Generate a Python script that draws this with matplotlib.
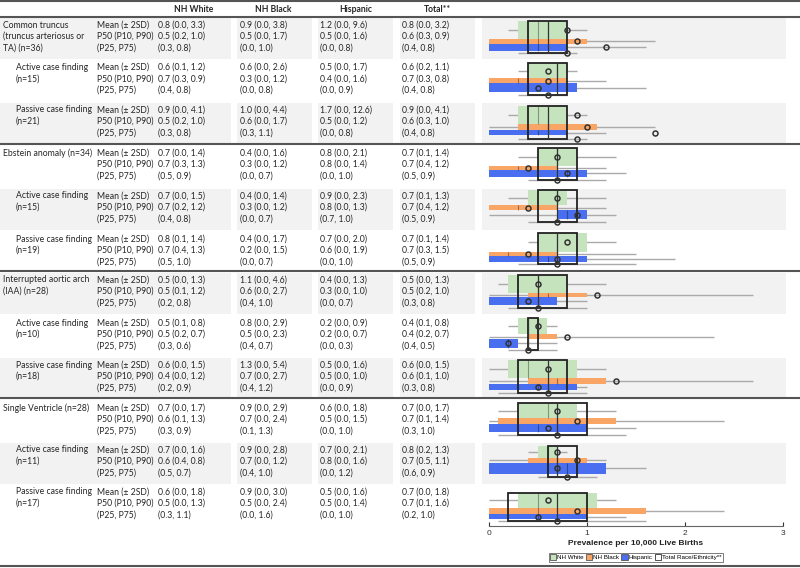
import numpy as np
import matplotlib
matplotlib.use("Agg")
import matplotlib.pyplot as plt
from matplotlib.patches import Rectangle, Patch

plt.rcParams['font.family'] = ['Lato', 'DejaVu Sans']

# 行标签
row_labels = [
    ["Common truncus", "(truncus arteriosus or", "TA) (n=36)"],
    ["Active case finding", "(n=15)"],
    ["Passive case finding", "(n=21)"],
    ["Ebstein anomaly (n=34)"],
    ["Active case finding", "(n=15)"],
    ["Passive case finding", "(n=19)"],
    ["Interrupted aortic arch", "(IAA) (n=28)"],
    ["Active case finding", "(n=10)"],
    ["Passive case finding", "(n=18)"],
    ["Single Ventricle (n=28)"],
    ["Active case finding", "(n=11)"],
    ["Passive case finding", "(n=17)"],
]
stat_labels = ["Mean (\u00b1 2SD)", "P50 (P10, P90)", "(P25, P75)"]
col_names = ["NH White", "NH Black", "Hispanic", "Total**"]

# 每行: mean, -2SD, +2SD, P50, P10, P90, P25, P75
nh_white = [
    [0.8, 0.0, 3.3, 0.5, 0.2, 1.0, 0.3, 0.8],
    [0.6, 0.1, 1.2, 0.7, 0.3, 0.9, 0.4, 0.8],
    [0.9, 0.0, 4.1, 0.5, 0.2, 1.0, 0.3, 0.8],
    [0.7, 0.0, 1.4, 0.7, 0.3, 1.3, 0.5, 0.9],
    [0.7, 0.0, 1.5, 0.7, 0.2, 1.2, 0.4, 0.8],
    [0.8, 0.1, 1.4, 0.7, 0.4, 1.3, 0.5, 1.0],
    [0.5, 0.0, 1.3, 0.5, 0.1, 1.2, 0.2, 0.8],
    [0.5, 0.1, 0.8, 0.5, 0.2, 0.7, 0.3, 0.6],
    [0.6, 0.0, 1.5, 0.4, 0.0, 1.2, 0.2, 0.9],
    [0.7, 0.0, 1.7, 0.6, 0.1, 1.3, 0.3, 0.9],
    [0.7, 0.0, 1.6, 0.6, 0.4, 0.8, 0.5, 0.7],
    [0.6, 0.0, 1.8, 0.5, 0.0, 1.3, 0.3, 1.1],
]
nh_black = [
    [0.9, 0.0, 3.8, 0.5, 0.0, 1.7, 0.0, 1.0],
    [0.6, 0.0, 2.6, 0.3, 0.0, 1.2, 0.0, 0.8],
    [1.0, 0.0, 4.4, 0.6, 0.0, 1.7, 0.3, 1.1],
    [0.4, 0.0, 1.6, 0.3, 0.0, 1.2, 0.0, 0.7],
    [0.4, 0.0, 1.4, 0.3, 0.0, 1.2, 0.0, 0.7],
    [0.4, 0.0, 1.7, 0.2, 0.0, 1.5, 0.0, 0.7],
    [1.1, 0.0, 4.6, 0.6, 0.0, 2.7, 0.4, 1.0],
    [0.8, 0.0, 2.9, 0.5, 0.0, 2.3, 0.4, 0.7],
    [1.3, 0.0, 5.4, 0.7, 0.0, 2.7, 0.4, 1.2],
    [0.9, 0.0, 2.9, 0.7, 0.0, 2.4, 0.1, 1.3],
    [0.9, 0.0, 2.8, 0.7, 0.0, 1.2, 0.4, 1.0],
    [0.9, 0.0, 3.0, 0.5, 0.0, 2.4, 0.0, 1.6],
]
hispanic = [
    [1.2, 0.0, 9.6, 0.5, 0.0, 1.6, 0.0, 0.8],
    [0.5, 0.0, 1.7, 0.4, 0.0, 1.6, 0.0, 0.9],
    [1.7, 0.0, 12.6, 0.5, 0.0, 1.2, 0.0, 0.8],
    [0.8, 0.0, 2.1, 0.8, 0.0, 1.4, 0.0, 1.0],
    [0.9, 0.0, 2.3, 0.8, 0.0, 1.3, 0.7, 1.0],
    [0.7, 0.0, 2.0, 0.6, 0.0, 1.9, 0.0, 1.0],
    [0.4, 0.0, 1.3, 0.3, 0.0, 1.0, 0.0, 0.7],
    [0.2, 0.0, 0.9, 0.2, 0.0, 0.7, 0.0, 0.3],
    [0.5, 0.0, 1.6, 0.5, 0.0, 1.0, 0.0, 0.9],
    [0.6, 0.0, 1.8, 0.5, 0.0, 1.5, 0.0, 1.0],
    [0.7, 0.0, 2.1, 0.8, 0.0, 1.6, 0.0, 1.2],
    [0.5, 0.0, 1.6, 0.5, 0.0, 1.4, 0.0, 1.0],
]
total = [
    [0.8, 0.0, 3.2, 0.6, 0.3, 0.9, 0.4, 0.8],
    [0.6, 0.2, 1.1, 0.7, 0.3, 0.8, 0.4, 0.8],
    [0.9, 0.0, 4.1, 0.6, 0.3, 1.0, 0.4, 0.8],
    [0.7, 0.1, 1.4, 0.7, 0.4, 1.2, 0.5, 0.9],
    [0.7, 0.1, 1.3, 0.7, 0.4, 1.2, 0.5, 0.9],
    [0.7, 0.1, 1.4, 0.7, 0.3, 1.5, 0.5, 0.9],
    [0.5, 0.0, 1.3, 0.5, 0.2, 1.0, 0.3, 0.8],
    [0.4, 0.1, 0.8, 0.4, 0.2, 0.7, 0.4, 0.5],
    [0.6, 0.0, 1.5, 0.6, 0.1, 1.0, 0.3, 0.8],
    [0.7, 0.0, 1.7, 0.7, 0.1, 1.4, 0.3, 1.0],
    [0.8, 0.2, 1.3, 0.7, 0.5, 1.1, 0.6, 0.9],
    [0.7, 0.0, 1.8, 0.7, 0.1, 1.6, 0.2, 1.0],
]
# 箱高占比 (各族裔出生人口份额, 从图中估计)
white_share = [0.56, 0.47, 0.55, 0.56, 0.47, 0.61, 0.54, 0.50, 0.54, 0.48, 0.40, 0.52]
black_share = [0.145, 0.145, 0.19, 0.11, 0.145, 0.12, 0.145, 0.145, 0.185, 0.19, 0.14, 0.23]
hisp_share = [0.215, 0.29, 0.16, 0.24, 0.29, 0.19, 0.245, 0.27, 0.205, 0.24, 0.36, 0.165]

# 版面 (像素)
W, H = 800, 568
row_c = [25, 67.3, 110, 153, 196, 239, 280, 323, 365, 408, 450, 492]
line_gap = 11.4
box_top = [21, 63.3, 105.5, 148.3, 190.3, 232.5, 275, 318.3, 360.3, 403, 445.5, 492.7]
box_h = [32.3, 32, 33, 31.7, 32, 31.6, 32.7, 32, 32.4, 32, 31.6, 28.6]
col_x = [157.5, 240, 320.5, 402]
head_x = [193.7, 272.8, 355.8, 437.8]
cell_spans = [(0, 231), (237, 312), (318, 393), (400, 475), (482, 786)]
x0_px, x3_px = 488.7, 782.7
fs = 6.2

green, orange, blue = '#c5e4bd', '#f8a566', '#4a6ef0'
txt = '#262626'

fig = plt.figure(figsize=(W / 100, H / 100), dpi=100)

# 表格层
tab = fig.add_axes([0, 0, 1, 1])
tab.set_xlim(0, W)
tab.set_ylim(H, 0)
tab.axis('off')

for r in range(12):
    if r % 2 == 0:
        for a, b in cell_spans:
            tab.add_patch(Rectangle((a, row_c[r] - 7.5), b - a, 41, fc='#f2f2f2', ec='none'))
    indent = 16 if row_labels[r][0].startswith(("Active", "Passive")) else 3
    for k, s in enumerate(row_labels[r]):
        tab.text(indent, row_c[r] + k * line_gap, s, fontsize=fs, color=txt, va='center')
    for k, s in enumerate(stat_labels):
        tab.text(97, row_c[r] + k * line_gap, s, fontsize=fs, color=txt, va='center')
    for j, grp in enumerate([nh_white, nh_black, hispanic, total]):
        m, lo, hi, p50, p10, p90, p25, p75 = grp[r]
        lines = [f"{m:.1f} ({lo:.1f}, {hi:.1f})",
                 f"{p50:.1f} ({p10:.1f}, {p90:.1f})",
                 f"({p25:.1f}, {p75:.1f})"]
        for k, s in enumerate(lines):
            tab.text(col_x[j], row_c[r] + k * line_gap, s, fontsize=fs, color=txt, va='center')

for j, s in enumerate(col_names):
    tab.text(head_x[j], 9, s, fontsize=fs, fontweight='bold', color=txt, ha='center', va='center')

for y in [1, 16.5, 144, 271, 397.5, 566]:
    tab.axhline(y, color='#555555', lw=1.5)

# 图表层
ax = fig.add_axes([x0_px / W, 0, (x3_px - x0_px) / W, 1])
ax.set_xlim(0, 3)
ax.set_ylim(H, 0)
ax.patch.set_alpha(0)
ax.set_zorder(2)

def draw_group(stats, y0, y1, color):
    m, lo, hi, p50, p10, p90, p25, p75 = stats
    yc = (y0 + y1) / 2
    ax.hlines(yc, p10, p90, color='#aaaaaa', lw=1.0, zorder=2)
    ax.add_patch(Rectangle((p25, y0), p75 - p25, y1 - y0, fc=color, ec='none', zorder=3))
    ax.vlines(p50, y0, y1, color='black', alpha=0.35, lw=0.8, zorder=4)
    ax.plot(m, yc, 'o', mfc='none', mec='#333333', ms=3.6, mew=1.1, zorder=7)

for r in range(12):
    t, h = box_top[r], box_h[r]
    hw, hb, hh = white_share[r] * h, black_share[r] * h, hisp_share[r] * h
    draw_group(nh_white[r], t, t + hw, green)
    draw_group(nh_black[r], t + hw, t + hw + hb, orange)
    draw_group(hispanic[r], t + hw + hb, t + hw + hb + hh, blue)
    m, lo, hi, p50, p10, p90, p25, p75 = total[r]
    ax.hlines(t + h, p10, p90, color='#aaaaaa', lw=1.0, zorder=2)
    ax.add_patch(Rectangle((p25, t), p75 - p25, h, fill=False, ec='#222222', lw=1.3, zorder=5))
    ax.vlines(p50, t, t + h, color='#333333', lw=0.9, zorder=5)
    ax.plot(m, t + h, 'o', mfc='none', mec='#333333', ms=3.6, mew=1.1, zorder=7)

for side in ['left', 'right', 'top']:
    ax.spines[side].set_visible(False)
ax.spines['bottom'].set_position(('data', 526))
ax.spines['bottom'].set_color('#666666')
ax.set_yticks([])
ax.set_xticks([0, 1, 2, 3])
ax.tick_params(axis='x', direction='in', length=3, labelsize=6, pad=3, colors='#333333')
for lab in ax.get_xticklabels():
    lab.set_family('Liberation Sans')
ax.set_xlabel('Prevalence per 10,000 Live Births', fontsize=6, fontweight='bold',
              family='Liberation Sans', labelpad=2, color='#222222')

handles = [Patch(fc=green, ec='#555555', lw=0.6, label='NH White'),
           Patch(fc=orange, ec='#555555', lw=0.6, label='NH Black'),
           Patch(fc=blue, ec='#555555', lw=0.6, label='Hispanic'),
           Patch(fc='white', ec='#333333', lw=0.6, label='Total Race/Ethnicity**')]
leg = ax.legend(handles=handles, loc='center', bbox_to_anchor=(0.5, (H - 557.3) / H),
                ncol=4, fontsize=4.5, frameon=True, fancybox=False, framealpha=1,
                edgecolor='#666666', handlelength=1.0, handleheight=1.0,
                handletextpad=0.2, columnspacing=0.3, borderpad=0.2)
leg.get_frame().set_linewidth(0.6)
for t_ in leg.get_texts():
    t_.set_family('Liberation Sans')

fig.savefig('out.png', dpi=100)
